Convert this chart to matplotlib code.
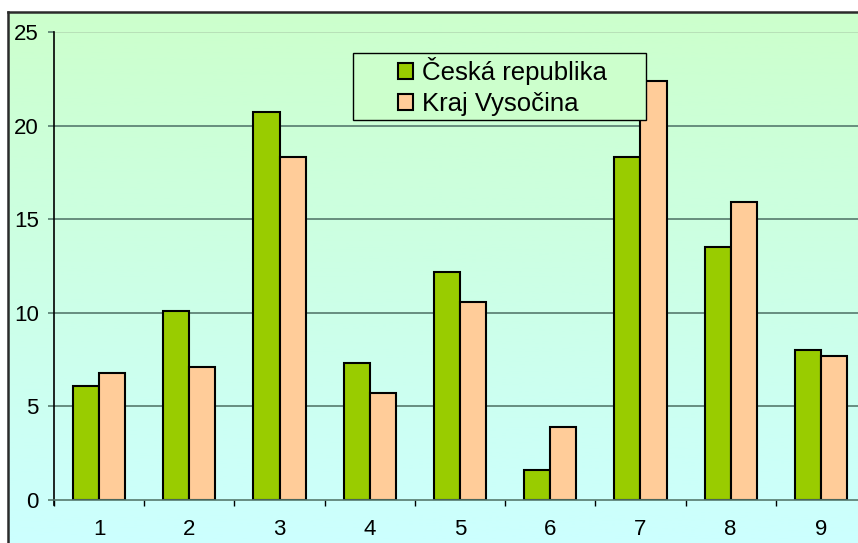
import numpy as np
import matplotlib.pyplot as plt
from matplotlib.patches import Rectangle

plt.rcParams['font.family'] = ['Liberation Sans', 'DejaVu Sans']

kategorie = [1, 2, 3, 4, 5, 6, 7, 8, 9]
cr = [6.1, 10.1, 20.7, 7.3, 12.2, 1.6, 18.3, 13.5, 8.0]
vysocina = [6.8, 7.1, 18.3, 5.7, 10.6, 3.9, 22.4, 15.9, 7.7]
nazvy = ["Česká republika", "Kraj Vysočina"]

W, H = 858, 543
fig = plt.figure(figsize=(W / 100, H / 100), dpi=100, facecolor="white")

# pozadi grafu - prechod zelena -> tyrkysova
bg = fig.add_axes([8 / W, 0, (W - 8) / W, (H - 12) / H])
grad = np.linspace(0, 1, 256).reshape(-1, 1)
top = np.array([0xCC, 0xFF, 0xCC]) / 255
bot = np.array([0xCC, 0xFF, 0xFF]) / 255
img = top[None, None, :] * (1 - grad[:, :, None]) + bot[None, None, :] * grad[:, :, None]
bg.imshow(img, aspect="auto", extent=[0, 1, 0, 1])
bg.set_xlim(0, 1)
bg.set_ylim(0, 1)
bg.set_xticks([])
bg.set_yticks([])
for s in ["right", "bottom"]:
    bg.spines[s].set_visible(False)
for s in ["left", "top"]:
    bg.spines[s].set_color("#2b2b2b")
    bg.spines[s].set_linewidth(1.8)

ax = fig.add_axes([54 / W, 43 / H, 812 / W, 468 / H])
ax.patch.set_alpha(0)

grid_c = "#567a6e"
x = np.array(kategorie)
w = 0.29
ax.bar(x - w / 2, cr, w, color="#99CC00", edgecolor="black", linewidth=1.5, zorder=3, label=nazvy[0])
ax.bar(x + w / 2, vysocina, w, color="#FFCC99", edgecolor="black", linewidth=1.5, zorder=3, label=nazvy[1])

ax.set_xlim(0.5, 9.5)
ax.set_ylim(0, 25)
ax.set_yticks([0, 5, 10, 15, 20, 25])
for v in [5, 10, 15, 20]:
    ax.axhline(v, color=grid_c, linewidth=1.2, zorder=1)
ax.axhline(25, color="#b4dcb4", linewidth=1.2, zorder=1)

ax.set_xticks(x)
ax.set_xticks(np.arange(0.5, 10, 1), minor=True)
ax.tick_params(axis="x", which="major", length=0, pad=14, labelsize=16)
ax.tick_params(axis="x", which="minor", length=4, width=1, direction="out", color="black")
ax.tick_params(axis="y", length=4, width=1.2, color=grid_c, pad=7, labelsize=16)

for s in ["top", "right"]:
    ax.spines[s].set_visible(False)
ax.spines["left"].set_color("black")
ax.spines["left"].set_linewidth(1.2)
ax.spines["left"].set_bounds(-0.25, 25)
ax.spines["bottom"].set_color(grid_c)
ax.spines["bottom"].set_linewidth(1.2)
ax.spines["bottom"].set_zorder(4)

# legenda
fig.patches.append(Rectangle((353 / W, (H - 120) / H), 293 / W, 67 / H,
                             transform=fig.transFigure, facecolor="#CCFFCC",
                             edgecolor="black", linewidth=1, zorder=5))
leg = fig.legend(loc="upper left", bbox_to_anchor=(385 / W, (H - 44) / H),
                 frameon=False, fontsize=18.5, handlelength=0.6, handleheight=0.6,
                 handletextpad=0.35, labelspacing=0.28, borderpad=0)
leg.set_zorder(6)

fig.savefig("out.png", dpi=100, facecolor="white")
